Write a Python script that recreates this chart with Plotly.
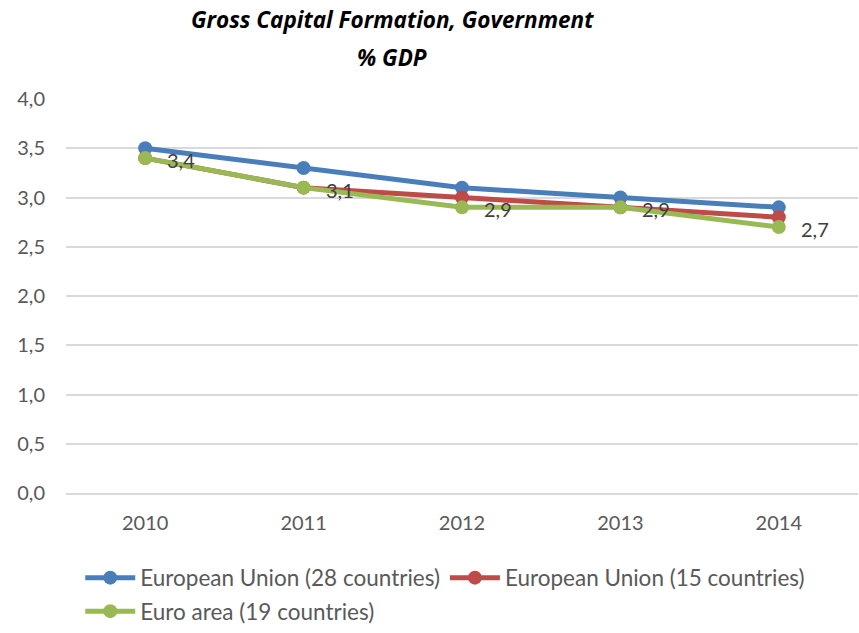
import plotly.graph_objects as go

years = ["2010", "2011", "2012", "2013", "2014"]
eu28 = [3.5, 3.3, 3.1, 3.0, 2.9]
eu15 = [3.4, 3.1, 3.0, 2.9, 2.8]
ea19 = [3.4, 3.1, 2.9, 2.9, 2.7]
names = ["European Union (28 countries)", "European Union (15 countries)", "Euro area (19 countries)"]
colors = ["#4a7ebb", "#be4b48", "#98b954"]
y_ticks = [0, 0.5, 1.0, 1.5, 2.0, 2.5, 3.0, 3.5, 4.0]
title_lines = ["Gross Capital Formation, Government", "% GDP"]

FONT = "Lato"
xi = list(range(len(years)))

def fmt(v):
    return f"{v:.1f}".replace(".", ",")

fig = go.Figure()
for vals, name, col, lg in [(eu28, names[0], colors[0], "legend"),
                            (eu15, names[1], colors[1], "legend"),
                            (ea19, names[2], colors[2], "legend2")]:
    fig.add_trace(go.Scatter(
        x=xi, y=vals, name=name, mode="lines+markers",
        line=dict(color=col, width=5),
        marker=dict(color=col, size=14),
        cliponaxis=False, legend=lg,
    ))

annotations = []
for i, v in enumerate(ea19):
    annotations.append(dict(x=i, y=v, xref="x", yref="y", text=fmt(v), showarrow=False,
                            xanchor="left", yanchor="middle", xshift=20, yshift=-2,
                            font=dict(family=FONT, size=20, color="#404040")))
for t, ypx in zip(title_lines, [20, 57]):
    annotations.append(dict(x=(392 - 66) / 792, y=(493 - ypx) / 394, xref="paper", yref="paper",
                            text=f"<b><i>{t}</i></b>", showarrow=False,
                            xanchor="center", yanchor="middle",
                            font=dict(family="Open Sans", size=22.5, color="black")))

leg_font = dict(family=FONT, size=22.5, color="#595959")
H = 633
fig.update_layout(
    width=859, height=H,
    margin=dict(l=66, r=1, t=99, b=140),
    paper_bgcolor="white", plot_bgcolor="white",
    font=dict(family=FONT, size=20, color="#595959"),
    showlegend=True,
    annotations=annotations,
    legend=dict(orientation="h", x=0.018, xanchor="left", yref="container",
                y=1 - 578 / H, yanchor="middle",
                font=leg_font, itemwidth=50, bgcolor="rgba(0,0,0,0)"),
    legend2=dict(orientation="h", x=0.018, xanchor="left", yref="container",
                 y=-0.016, yanchor="bottom",
                 font=leg_font, itemwidth=50, bgcolor="rgba(0,0,0,0)"),
    xaxis=dict(range=[-0.5, 4.5], tickvals=xi, ticktext=years, showgrid=False,
               showline=True, linecolor="#d9d9d9", linewidth=1.5, ticks="",
               zeroline=False, ticklabelstandoff=11, tickfont=dict(size=20, color="#595959")),
    yaxis=dict(range=[0, 4], tickvals=y_ticks, ticktext=[fmt(v) for v in y_ticks],
               showgrid=True, gridcolor="#d9d9d9", gridwidth=1.5, zeroline=False,
               ticks="", ticklabelstandoff=20, tickfont=dict(size=20, color="#595959")),
)

fig.write_html("out.html", config={"displayModeBar": False},
               post_script="document.body.style.margin='0';")
